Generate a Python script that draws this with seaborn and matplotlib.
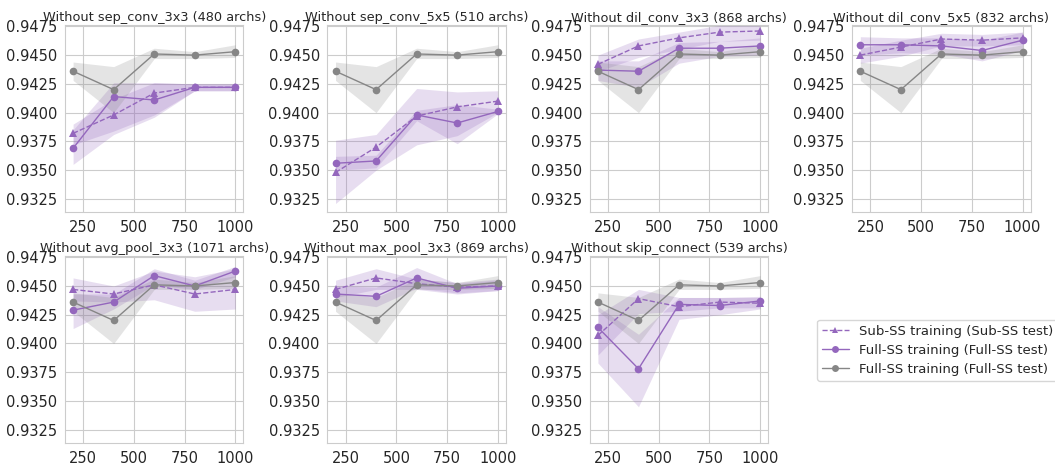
import numpy as np
import pandas as pd
import matplotlib
matplotlib.use("Agg")
import matplotlib.pyplot as plt
import seaborn as sns
from matplotlib.lines import Line2D

# ---------------- data ----------------
n_archs = [200, 400, 600, 800, 1000]

titles = [
    "Without sep_conv_3x3 (480 archs)",
    "Without sep_conv_5x5 (510 archs)",
    "Without dil_conv_3x3 (868 archs)",
    "Without dil_conv_5x5 (832 archs)",
    "Without avg_pool_3x3 (1071 archs)",
    "Without max_pool_3x3 (869 archs)",
    "Without skip_connect (539 archs)",
]

# Full-SS training (Full-SS test), gray, same in every panel
full_ref_mean = [0.9436, 0.9420, 0.9451, 0.9450, 0.9453]
full_ref_lo = [0.9428, 0.9400, 0.9447, 0.9447, 0.9448]
full_ref_hi = [0.9444, 0.9440, 0.9456, 0.9453, 0.9459]

# Sub-SS training (Sub-SS test), purple dashed
sub_mean = [
    [0.9382, 0.9398, 0.9417, 0.9422, 0.9422],
    [0.9348, 0.9370, 0.9397, 0.9405, 0.9410],
    [0.9442, 0.9458, 0.9465, 0.9470, 0.9471],
    [0.9450, 0.9457, 0.9464, 0.9463, 0.9465],
    [0.9447, 0.9443, 0.9451, 0.9443, 0.9447],
    [0.9447, 0.9457, 0.9452, 0.9449, 0.9450],
    [0.9407, 0.9439, 0.9432, 0.9436, 0.9435],
]
sub_lo = [
    [0.9372, 0.9384, 0.9398, 0.9419, 0.9419],
    [0.9321, 0.9350, 0.9372, 0.9380, 0.9400],
    [0.9436, 0.9448, 0.9455, 0.9462, 0.9463],
    [0.9443, 0.9449, 0.9458, 0.9458, 0.9459],
    [0.9437, 0.9436, 0.9438, 0.9428, 0.9430],
    [0.9440, 0.9447, 0.9447, 0.9443, 0.9446],
    [0.9390, 0.9426, 0.9428, 0.9431, 0.9431],
]
sub_hi = [
    [0.9390, 0.9412, 0.9426, 0.9425, 0.9425],
    [0.9376, 0.9381, 0.9421, 0.9418, 0.9419],
    [0.9450, 0.9464, 0.9470, 0.9476, 0.9477],
    [0.9456, 0.9463, 0.9469, 0.9468, 0.9470],
    [0.9457, 0.9450, 0.9463, 0.9458, 0.9465],
    [0.9455, 0.9465, 0.9456, 0.9453, 0.9456],
    [0.9425, 0.9447, 0.9440, 0.9440, 0.9440],
]

# Full-SS training (Full-SS test), purple solid
full_mean = [
    [0.9369, 0.9414, 0.9411, 0.9422, 0.9422],
    [0.9356, 0.9358, 0.9398, 0.9391, 0.9401],
    [0.9437, 0.9436, 0.9456, 0.9456, 0.9458],
    [0.9459, 0.9459, 0.9458, 0.9454, 0.9463],
    [0.9429, 0.9436, 0.9459, 0.9450, 0.9463],
    [0.9443, 0.9441, 0.9457, 0.9448, 0.9450],
    [0.9414, 0.9378, 0.9434, 0.9433, 0.9437],
]
full_lo = [
    [0.9355, 0.9381, 0.9396, 0.9419, 0.9419],
    [0.9350, 0.9352, 0.9393, 0.9373, 0.9399],
    [0.9428, 0.9422, 0.9443, 0.9449, 0.9450],
    [0.9450, 0.9452, 0.9451, 0.9445, 0.9454],
    [0.9413, 0.9430, 0.9451, 0.9447, 0.9458],
    [0.9437, 0.9432, 0.9448, 0.9444, 0.9446],
    [0.9383, 0.9345, 0.9421, 0.9425, 0.9430],
]
full_hi = [
    [0.9385, 0.9426, 0.9426, 0.9425, 0.9425],
    [0.9362, 0.9363, 0.9402, 0.9407, 0.9403],
    [0.9445, 0.9445, 0.9461, 0.9462, 0.9465],
    [0.9466, 0.9465, 0.9465, 0.9463, 0.9470],
    [0.9443, 0.9443, 0.9465, 0.9455, 0.9467],
    [0.9450, 0.9449, 0.9466, 0.9452, 0.9455],
    [0.9432, 0.9408, 0.9440, 0.9440, 0.9441],
]

legend_labels = [
    "Sub-SS training (Sub-SS test)",
    "Full-SS training (Full-SS test)",
    "Full-SS training (Full-SS test)",
]

y_ticks = [0.9325, 0.9350, 0.9375, 0.9400, 0.9425, 0.9450, 0.9475]
x_ticks = [250, 500, 750, 1000]

# ---------------- style ----------------
sns.set_style("whitegrid")
plt.rcParams["font.family"] = ["DejaVu Sans"]
PURPLE = "#9467bd"
GRAY = "#868686"

fig, axes = plt.subplots(2, 4, figsize=(10.55, 4.67), dpi=100)
fig.subplots_adjust(left=0.0616, right=0.977, top=0.946, bottom=0.0514,
                    wspace=0.47, hspace=0.235)
axes = axes.ravel()


def draw(ax, mean, lo, hi, color, marker, ls):
    df = pd.DataFrame({"n": n_archs, "acc": mean})
    sns.lineplot(data=df, x="n", y="acc", ax=ax, color=color, marker=marker,
                 linestyle=ls, linewidth=1.0, markersize=5.5,
                 markeredgewidth=0, legend=False)
    ax.fill_between(n_archs, lo, hi, color=color, alpha=0.22, linewidth=0)


for i, title in enumerate(titles):
    ax = axes[i]
    draw(ax, sub_mean[i], sub_lo[i], sub_hi[i], PURPLE, "^", "--")
    draw(ax, full_mean[i], full_lo[i], full_hi[i], PURPLE, "o", "-")
    draw(ax, full_ref_mean, full_ref_lo, full_ref_hi, GRAY, "o", "-")
    ax.set_ylim(0.93135, 0.9476)
    ax.set_xlim(160, 1040)
    ax.set_yticks(y_ticks)
    ax.set_yticklabels([f"{v:.4f}" for v in y_ticks])
    ax.set_xticks(x_ticks)
    ax.set_xlabel("")
    ax.set_ylabel("")
    ax.tick_params(labelsize=10.5, pad=2, colors="#262626")
    ax.set_title(title, fontsize=9.3, pad=3, color="#262626")

axes[7].axis("off")

handles = [
    Line2D([], [], color=PURPLE, linestyle="--", marker="^", markersize=5,
           markeredgewidth=0, linewidth=1.0),
    Line2D([], [], color=PURPLE, linestyle="-", marker="o", markersize=5,
           markeredgewidth=0, linewidth=1.0),
    Line2D([], [], color=GRAY, linestyle="-", marker="o", markersize=5,
           markeredgewidth=0, linewidth=1.0),
]
fig.legend(handles, legend_labels, loc="center", bbox_to_anchor=(0.889, 0.25),
           fontsize=9.5, frameon=True, handlelength=2.0, labelspacing=0.45,
           borderpad=0.4)

fig.savefig("out.png", dpi=100)
